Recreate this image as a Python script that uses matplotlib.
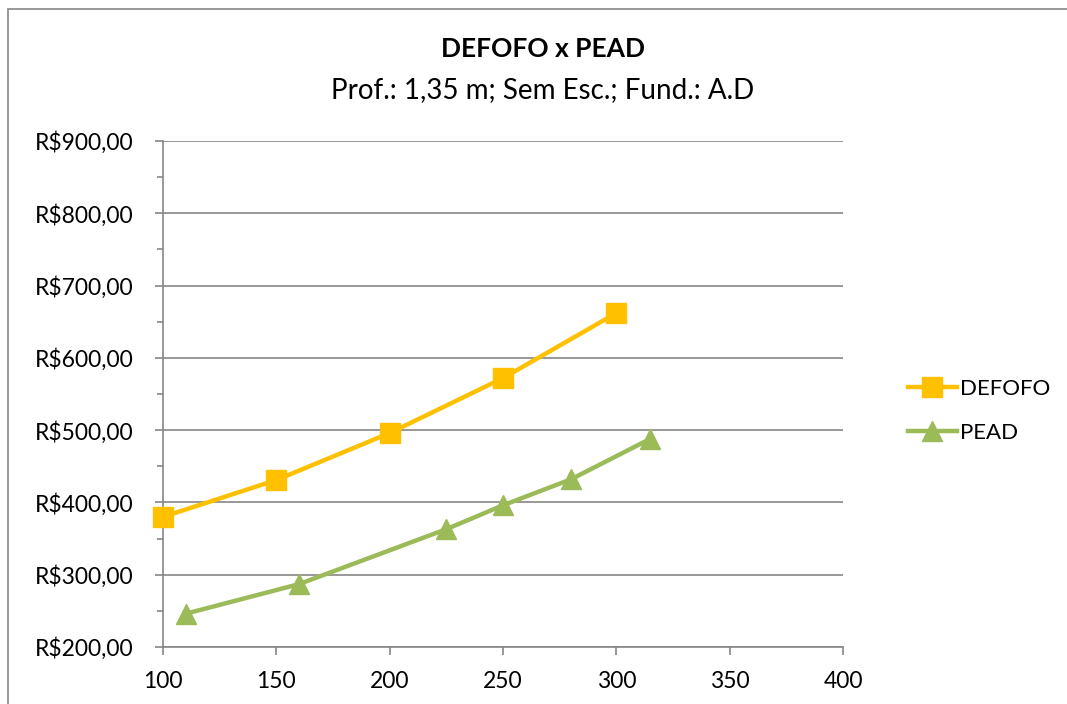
import matplotlib
matplotlib.use("Agg")
import matplotlib.pyplot as plt
from matplotlib.patches import Rectangle
from matplotlib.ticker import MultipleLocator, FuncFormatter

plt.rcParams['font.family'] = ['Lato', 'DejaVu Sans']

# data
defofo_x = [100, 150, 200, 250, 300]
defofo_y = [380, 431, 496, 572, 662]
pead_x = [110, 160, 225, 250, 280, 315]
pead_y = [246, 287, 363, 396, 432, 488]

title = "DEFOFO x PEAD"
subtitle = "Prof.: 1,35 m; Sem Esc.; Fund.: A.D"

fig = plt.figure(figsize=(10.67, 7.04), dpi=100)
ax = fig.add_axes([163/1067, 1-647/704, (843-163)/1067, (647-141)/704])

# chart border (like the Excel chart area)
fig.patches.append(Rectangle((8/1067, -0.1), 1.2, 1-9/704+0.1, transform=fig.transFigure,
                             fill=False, edgecolor='#868686', linewidth=1.2))

ax.plot(defofo_x, defofo_y, color='#FFC000', lw=3.2, marker='s', ms=14,
        label='DEFOFO', clip_on=False, zorder=3)
ax.plot(pead_x, pead_y, color='#9BBB59', lw=3.2, marker='^', ms=14.5,
        label='PEAD', clip_on=False, zorder=3)

ax.set_xlim(100, 400)
ax.set_ylim(200, 900)
ax.xaxis.set_major_locator(MultipleLocator(50))
ax.yaxis.set_major_locator(MultipleLocator(100))
ax.yaxis.set_minor_locator(MultipleLocator(50))
ax.yaxis.set_major_formatter(FuncFormatter(lambda v, p: "R$%d,00" % v))

ax.grid(axis='y', which='major', color='#868686', lw=1.2)
ax.set_axisbelow(True)
for s in ['top', 'right']:
    ax.spines[s].set_visible(False)
for s in ['left', 'bottom']:
    ax.spines[s].set_color('#868686')
    ax.spines[s].set_linewidth(1.2)
ax.tick_params(which='major', length=6, color='#868686', width=1.2, labelsize=16.5)
ax.tick_params(which='minor', length=4, color='#868686', width=1.2)
ax.tick_params(axis='y', pad=15)
ax.tick_params(axis='x', pad=11)

fig.text(543/1067, 1-49/704, title, ha='center', va='center',
         fontsize=19, fontweight='bold')
fig.text(543/1067, 1-90/704, subtitle, ha='center', va='center', fontsize=20)

ax.legend(loc='center left', bbox_to_anchor=(888/1067, 1-411/704),
          bbox_transform=fig.transFigure, frameon=False, fontsize=16,
          handlelength=2.2, labelspacing=1.1, handletextpad=0.15)

fig.savefig("out.png", dpi=100)
